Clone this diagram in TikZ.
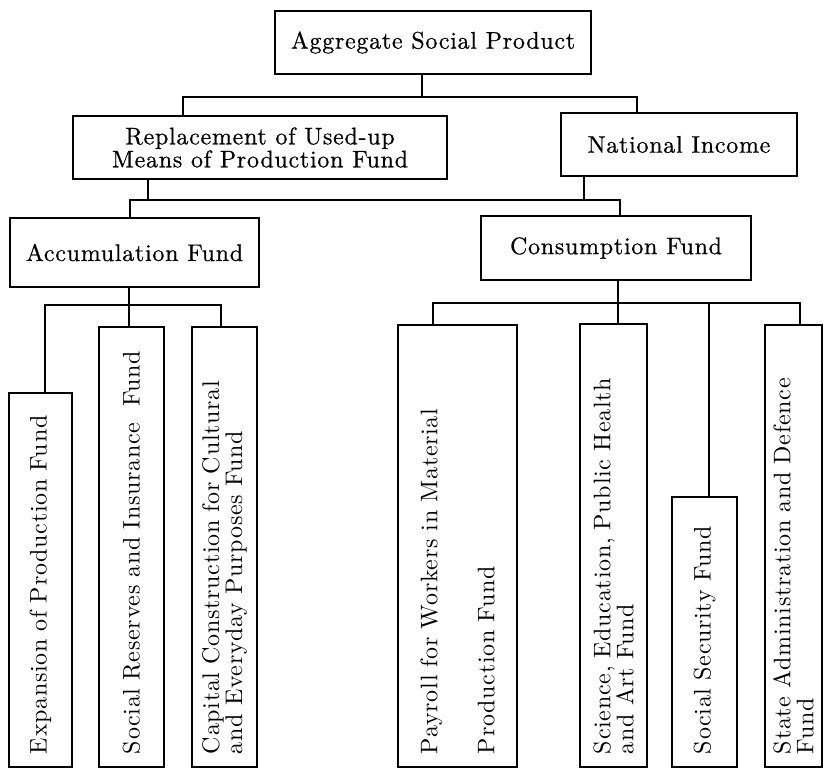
\documentclass[tikz,border=0pt]{standalone}
\usepackage{fontspec}
\newfontfamily\lmls{lmroman10-regular.otf}[LetterSpace=3]
\newfontfamily\lmlsb{lmroman10-regular.otf}[LetterSpace=3,FakeBold=0.6]
\begin{document}
\begin{tikzpicture}[x=1pt,y=-1pt,
  line width=1.3pt,
  hbox/.style={font=\lmlsb\fontsize{24pt}{23pt}\selectfont, draw, align=center, inner sep=0pt},
  vbox/.style={font=\lmls\fontsize{24pt}{23pt}\selectfont, draw, rotate=90, align=left, inner xsep=13pt, inner ysep=0pt}]
\useasboundingbox (0,0) rectangle (826,771);
% level 1
\node[hbox, minimum width=316pt, minimum height=63pt] (asp) at (433,42.5) {Aggregate Social Product};
% level 2
\node[hbox, minimum width=374pt, minimum height=63pt] (rep) at (260,147.5) {Replacement of Used-up\\Means of Production Fund};
\node[hbox, minimum width=236pt, minimum height=63pt] (ni) at (679,144.5) {National Income};
% level 3
\node[hbox, minimum width=249pt, minimum height=69pt] (acc) at (134.5,252.5) {Accumulation Fund};
\node[hbox, minimum width=270pt, minimum height=64pt] (cons) at (616,248) {Consumption Fund};
% level 4 (rotated)
\node[vbox, minimum width=374pt, minimum height=63pt, text width=348pt] (exp) at (40.5,580) {Expansion of Production Fund};
\node[vbox, minimum width=440pt, minimum height=65pt, text width=414pt] (srf) at (131.5,547) {Social Reserves and Insurance\ \ Fund};
\node[vbox, minimum width=440pt, minimum height=65pt, text width=414pt] (cap) at (224.5,547) {Capital Construction for Cultural\\and Everyday Purposes Fund};
\node[vbox, minimum width=442pt, minimum height=119pt, text width=416pt] (pay) at (457.5,546) {Payroll for Workers in Material\\[34pt]Production Fund};
\node[vbox, minimum width=443pt, minimum height=67pt, text width=417pt] (sci) at (613.5,545.5) {Science, Education, Public Health\\and Art Fund};
\node[vbox, minimum width=270pt, minimum height=65pt, text width=244pt] (ss) at (704.5,632) {Social Security Fund};
\node[vbox, minimum width=442pt, minimum height=57pt, text width=416pt] (sad) at (793.5,546) {State Administration and Defence\\Fund};
% junction coordinates
\coordinate (j1) at (422,97);
\coordinate (h1l) at (183,97);
\coordinate (h1r) at (637,97);
\coordinate (s1) at (148,200);
\coordinate (s2) at (584,200);
\coordinate (h2l) at (130,200);
\coordinate (h2r) at (620,200);
\coordinate (h3m) at (129,305);
\coordinate (h3l) at (45,305);
\coordinate (h3r) at (221,305);
\coordinate (c0) at (618,303);
\coordinate (h4l) at (433,303);
\coordinate (h4s) at (709,303);
\coordinate (h4r) at (800,303);
% connectors
\draw (asp.south -| j1) -- (j1);
\draw (rep.north -| h1l) -- (h1l) -- (h1r) -- (ni.north -| h1r);
\draw (rep.south -| s1) -- (s1);
\draw (ni.south -| s2) -- (s2);
\draw (acc.north -| h2l) -- (h2l) -- (h2r) -- (cons.north -| h2r);
\draw (acc.south -| h3m) -- (h3m) -- (srf.east -| h3m);
\draw (exp.east -| h3l) -- (h3l) -- (h3r) -- (cap.east -| h3r);
\draw (cons.south -| c0) -- (c0) -- (sci.east -| c0);
\draw (pay.east -| h4l) -- (h4l) -- (h4r) -- (sad.east -| h4r);
\draw (h4s) -- (ss.east -| h4s);
\end{tikzpicture}
\end{document}
